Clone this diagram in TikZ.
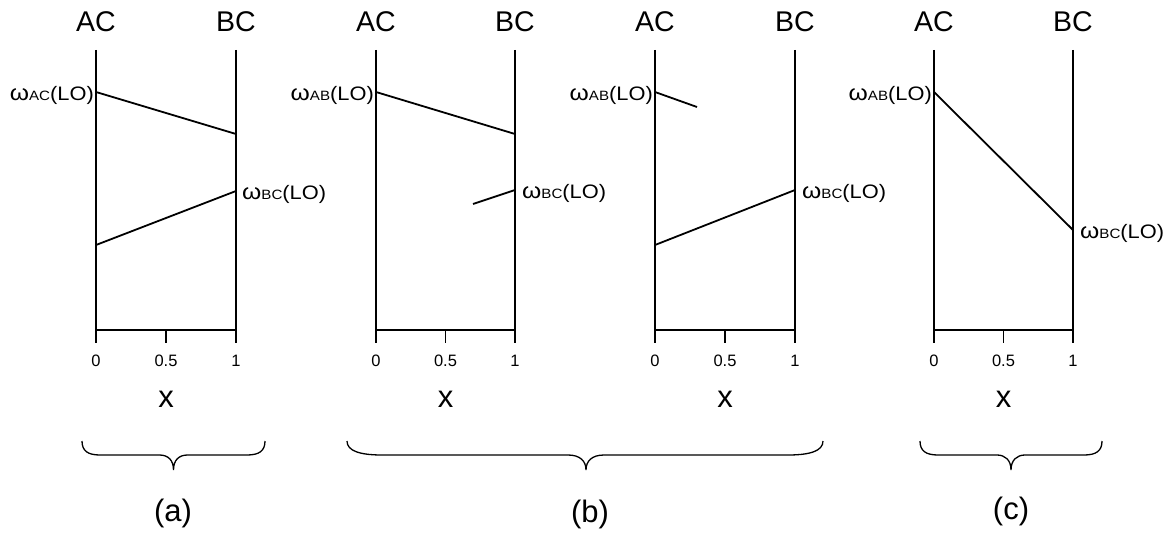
\documentclass[tikz,border=0pt]{standalone}
\usepackage{fontspec}
\setmainfont{Liberation Sans}
\newfontfamily\omfont[FakeStretch=1.12]{Liberation Sans}
\newcommand{\omlab}[1]{{\omfont\fontsize{22}{22}\selectfont ω}{\omfont\fontsize{13.5}{13.5}\selectfont #1}{\omfont\fontsize{19.5}{19.5}\selectfont (LO)}}
\begin{document}
\begin{tikzpicture}[x=1pt,y=-1pt,
  ax/.style={line width=1.8pt},
  ln/.style={line width=1.8pt},
  hd/.style={font=\fontsize{28.5}{28.5}\selectfont, inner sep=0pt, anchor=base},
  tk/.style={font=\fontsize{16.5}{16.5}\selectfont, inner sep=0pt, anchor=base},
  xl/.style={font=\fontsize{31}{31}\selectfont, inner sep=0pt, anchor=base},
  oml/.style={inner sep=0pt, anchor=base east},
  omr/.style={inner sep=0pt, anchor=base west},
  br/.style={line width=1.3pt},
  captxt/.style={font=\fontsize{31}{31}\selectfont, inner sep=0pt, anchor=base}]
\useasboundingbox (0,0) rectangle (1170,535);

\foreach \p/\a/\b in {1/96/236, 2/376/515, 3/655/795, 4/934/1073}{
  \pgfmathsetmacro{\m}{(\a+\b)/2}
  \coordinate (A\p t) at (\a,50);
  \coordinate (A\p b) at (\a,343);
  \coordinate (B\p t) at (\b,50);
  \coordinate (B\p b) at (\b,343);
  \coordinate (A\p o) at (\a,330);
  \coordinate (B\p o) at (\b,330);
  \coordinate (M\p o) at (\m,330);
  \coordinate (M\p b) at (\m,343);
  \draw[ax] (A\p t) -- (A\p b);
  \draw[ax] (B\p t) -- (B\p b);
  \draw[ax] (A\p o) -- (B\p o);
  \draw[ax] (M\p o) -- (M\p b);
  \node[hd] (hA\p) at (\a,32) {AC};
  \node[hd] (hB\p) at (\b,32) {BC};
  \node[tk] (t0\p) at (\a,366) {0};
  \node[tk] (t5\p) at (\m,366) {0.5};
  \node[tk] (t1\p) at (\b,366) {1};
  \node[xl] (x\p) at (\m,407) {x};
}

% panel 1
\coordinate (p1a) at (96,92);  \coordinate (p1b) at (236,134);
\coordinate (p1c) at (96,245); \coordinate (p1d) at (236,191);
\draw[ln] (p1a) -- (p1b);
\draw[ln] (p1c) -- (p1d);
\node[oml] (l1) at (94,100) {\omlab{AC}};
\node[omr] (r1) at (242,199) {\omlab{BC}};

% panel 2
\coordinate (p2a) at (376,92);  \coordinate (p2b) at (515,134);
\coordinate (p2c) at (473,204); \coordinate (p2d) at (515,190);
\draw[ln] (p2a) -- (p2b);
\draw[ln] (p2c) -- (p2d);
\node[oml] (l2) at (374,100) {\omlab{AB}};
\node[omr] (r2) at (522,198) {\omlab{BC}};

% panel 3
\coordinate (p3a) at (655,92);  \coordinate (p3b) at (697,107);
\coordinate (p3c) at (655,245); \coordinate (p3d) at (795,190);
\draw[ln] (p3a) -- (p3b);
\draw[ln] (p3c) -- (p3d);
\node[oml] (l3) at (653,100) {\omlab{AB}};
\node[omr] (r3) at (802,198) {\omlab{BC}};

% panel 4
\coordinate (p4a) at (934,92);  \coordinate (p4b) at (1073,230);
\draw[ln] (p4a) -- (p4b);
\node[oml] (l4) at (932,100) {\omlab{AB}};
\node[omr] (r4) at (1080,238) {\omlab{BC}};

% braces
\draw[br] (82,441) .. controls (82,451) and (88,455) .. (100,455) -- (159.5,455)
  .. controls (168,455) and (173.5,460) .. (173.5,470)
  .. controls (173.5,460) and (179,455) .. (187.5,455) -- (247,455)
  .. controls (259,455) and (265,451) .. (265,441);
\draw[br] (347,441) .. controls (347,451) and (360,455) .. (382,455) -- (568,455)
  .. controls (580,455) and (586,461) .. (586,470)
  .. controls (586,461) and (592,455) .. (604,455) -- (788,455)
  .. controls (810,455) and (823,451) .. (823,441);
\draw[br] (920,441) .. controls (920,451) and (926,455) .. (938,455) -- (997,455)
  .. controls (1005,455) and (1011,460) .. (1011,470)
  .. controls (1011,460) and (1017,455) .. (1025,455) -- (1084,455)
  .. controls (1096,455) and (1102,451) .. (1102,441);

\node[captxt] (ca) at (173,521) {(a)};
\node[captxt] (cb) at (590,522) {(b)};
\node[captxt] (cc) at (1011,519) {(c)};
\end{tikzpicture}
\end{document}
